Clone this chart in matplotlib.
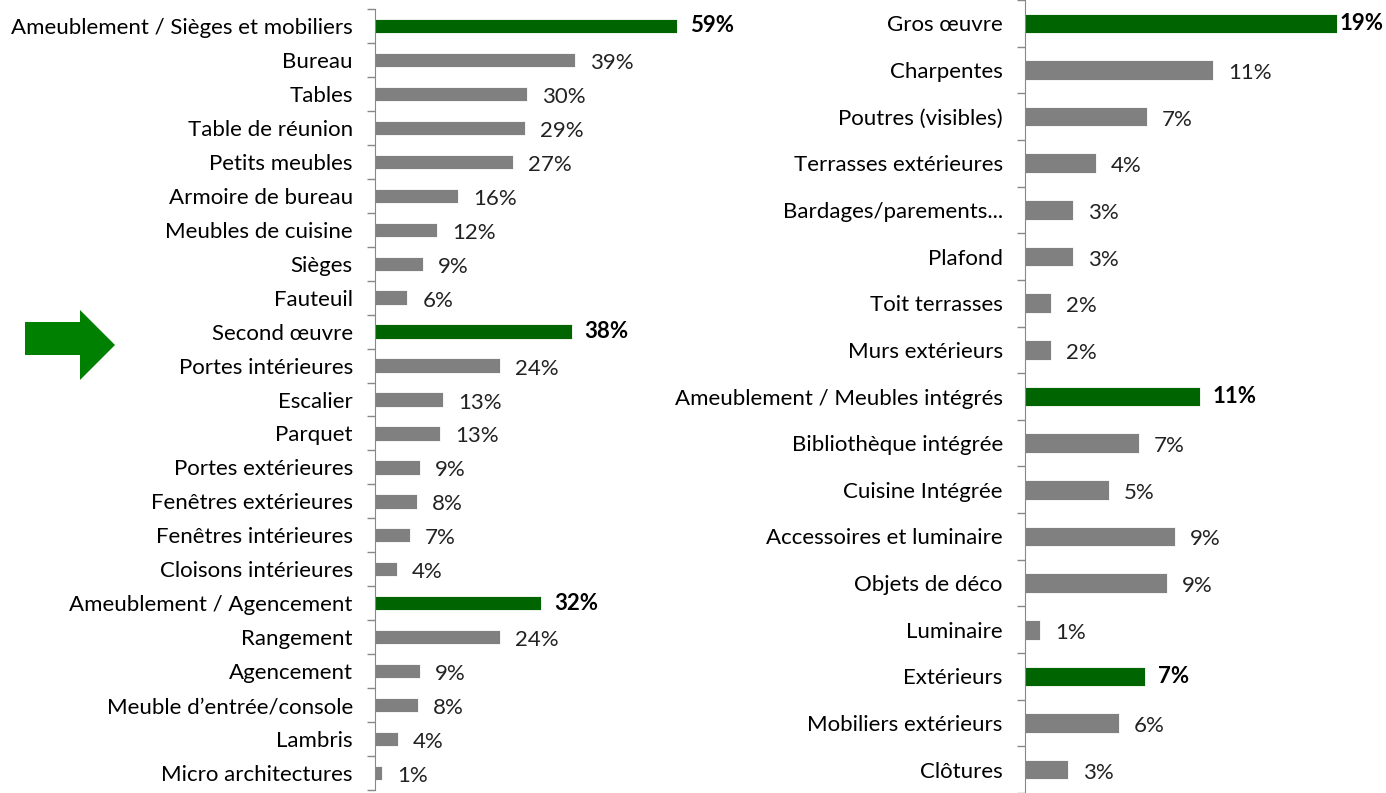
import matplotlib
matplotlib.use("Agg")
import matplotlib.pyplot as plt
from matplotlib.patches import Polygon

plt.rcParams['font.family'] = ['Lato', 'DejaVu Sans']

# left panel
left_cats = ["Ameublement / Sièges et mobiliers", "Bureau", "Tables", "Table de réunion",
             "Petits meubles", "Armoire de bureau", "Meubles de cuisine", "Sièges", "Fauteuil",
             "Second œuvre", "Portes intérieures", "Escalier", "Parquet", "Portes extérieures",
             "Fenêtres extérieures", "Fenêtres intérieures", "Cloisons intérieures",
             "Ameublement / Agencement", "Rangement", "Agencement", "Meuble d\u2019entrée/console",
             "Lambris", "Micro architectures"]
left_vals = [59.0, 39.1, 29.7, 29.3, 27.0, 16.2, 12.1, 9.4, 6.3, 38.4, 24.4, 13.3, 12.7,
             8.8, 8.2, 6.8, 4.3, 32.4, 24.4, 8.8, 8.4, 4.4, 1.4]
left_groups = [0, 9, 17]

# right panel
right_cats = ["Gros œuvre", "Charpentes", "Poutres (visibles)", "Terrasses extérieures",
              "Bardages/parements...", "Plafond", "Toit terrasses", "Murs extérieurs",
              "Ameublement / Meubles intégrés", "Bibliothèque intégrée", "Cuisine Intégrée",
              "Accessoires et luminaire", "Objets de déco", "Luminaire", "Extérieurs",
              "Mobiliers extérieurs", "Clôtures"]
right_vals = [18.9, 11.4, 7.4, 4.3, 2.9, 2.9, 1.6, 1.6, 10.6, 6.9, 5.1, 9.1, 8.6, 0.9,
              7.3, 5.7, 2.6]
right_groups = [0, 8, 14]

GREEN = "#006400"
GREY = "#808080"
W, H = 1386, 793

fig = plt.figure(figsize=(W / 100, H / 100), dpi=100)


def panel(rect, cats, vals, groups, xmax, ylim, barh, fs, gap):
    ax = fig.add_axes(rect)
    n = len(cats)
    y = list(range(n))
    cols = [GREEN if i in groups else GREY for i in y]
    ax.barh(y, vals, height=barh, color=cols, edgecolor="white", linewidth=0.6)
    ax.set_xlim(0, xmax)
    ax.set_ylim(*ylim)
    ax.set_yticks(y)
    ax.set_yticklabels(cats, fontsize=fs)
    ax.set_yticks([i - 0.5 for i in range(n + 1)], minor=True)
    ax.tick_params(axis="y", which="major", length=0, pad=16)
    ax.tick_params(axis="y", which="minor", length=6, color="#888888", width=1)
    ax.set_xticks([])
    for s in ["top", "right", "bottom"]:
        ax.spines[s].set_visible(False)
    ax.spines["left"].set_color("#888888")
    ax.patch.set_alpha(0)
    mx = max(vals)
    for i, v in enumerate(vals):
        txt = "{:.0f}%".format(v)
        if i in groups:
            off = 3 if v == mx and xmax < 30 else gap - 2
            ax.annotate(txt, (v, i), xytext=(off, 0), textcoords="offset pixels",
                        va="center", ha="left", fontsize=fs, fontweight="bold", color="black")
        else:
            ax.annotate(txt, (v, i), xytext=(gap, -3), textcoords="offset pixels",
                        va="center", ha="left", fontsize=fs, color="#222222")
    return ax


# left axes: y pixels 9..790, x from 375
panel([375 / W, (H - 790) / H, 318 / W, 781 / H], left_cats, left_vals, left_groups,
      318 / 5.12, (22.5, -0.5), 0.42, 16, 15)

# right axes: full height, rows at 20 + 47*i px
panel([1025 / W, 0, 361 / W, 1], right_cats, right_vals, right_groups,
      361 / 16.5, (773 / 47, -20 / 47), 0.42, 16, 15)

# green arrow pointing at "Second oeuvre"
pts = [(25, 322), (80, 322), (80, 310), (115, 345), (80, 380), (80, 355), (25, 355)]
arrow = Polygon([(x / W, 1 - yy / H) for x, yy in pts], closed=True,
                transform=fig.transFigure, facecolor="#008000", edgecolor="none")
fig.patches.append(arrow)

fig.savefig("out.png", dpi=100)
